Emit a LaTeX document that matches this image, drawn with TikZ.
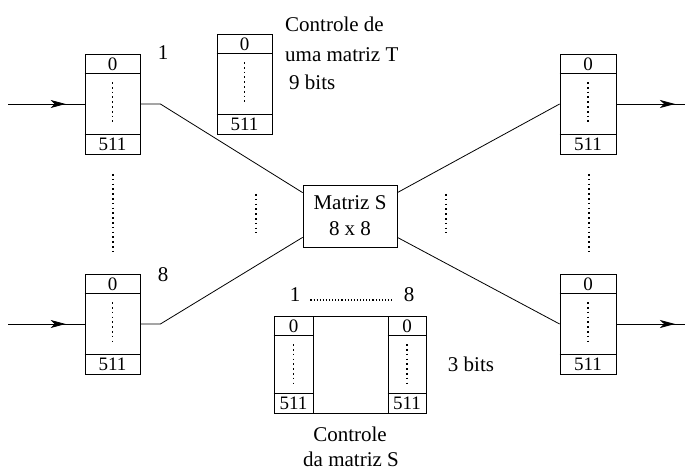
\documentclass[tikz,border=0pt]{standalone}
\usepackage{fontspec}
\setmainfont{Liberation Serif}
\usetikzlibrary{arrows.meta,decorations.markings}
\tikzset{
  ln/.style={line width=0.8pt},
  bufbox/.style={draw,ln,rectangle,inner sep=0pt},
  digit/.style={inner sep=0pt,font=\fontsize{19}{22}\selectfont},
  txt/.style={inner sep=0pt,font=\fontsize{21}{26}\selectfont},
  dotline/.style={line width=1.7pt,dash pattern=on 1.7pt off 3.1pt},
  inarrow/.style={ln,decoration={markings,mark=at position #1 with {\arrow{Stealth[length=15pt,width=8pt,inset=4pt]}}},postaction={decorate}},
}
% name, cx, cy, width, height
\newcommand\mkbuf[5]{%
  \node[bufbox,minimum width=#4pt,minimum height=#5pt] (#1) at (#2,#3) {};
  \draw[ln] ([yshift=-20pt]#1.north west) -- ([yshift=-20pt]#1.north east);
  \draw[ln] ([yshift=20pt]#1.south west) -- ([yshift=20pt]#1.south east);
  \node[digit] (#1-a) at ([yshift=-10.5pt]#1.north) {0};
  \node[digit] (#1-b) at ([yshift=10pt]#1.south) {511};
  \draw[dotline] ([yshift=-28.5pt]#1.north) -- ([yshift=30pt]#1.south);
}
\begin{document}
\begin{tikzpicture}[x=1pt,y=-1pt]
\useasboundingbox (0,0) rectangle (685,470);
% buffers
\mkbuf{bl1}{112.5}{104}{55}{100}
\mkbuf{bl8}{112.5}{324}{55}{100}
\mkbuf{br1}{588}{104}{56}{100}
\mkbuf{br8}{588}{324}{56}{100}
\mkbuf{bt}{244.5}{84}{55}{100}
% switch matrix
\node[bufbox,minimum width=94pt,minimum height=62pt,align=center,
      font=\fontsize{21}{26}\selectfont] (S) at (350,216) {Matriz S\\8 x 8};
% bottom control
\node[bufbox,minimum width=152pt,minimum height=97pt] (ctl) at (350,364.5) {};
\mkbuf{c1}{293.5}{364.5}{39}{97}
\mkbuf{c8}{407}{364.5}{38}{97}
% inputs / outputs
\coordinate (in1) at (8,104);
\coordinate (in8) at (8,324);
\coordinate (out1) at (685,104);
\coordinate (out8) at (685,324);
\draw[inarrow=-19pt] (in1) -- (bl1.west);
\draw[inarrow=-19pt] (in8) -- (bl8.west);
\draw[inarrow=-10pt] (br1.east) -- (out1);
\draw[inarrow=-10pt] (br8.east) -- (out8);
% connections to matrix
\draw[ln] (bl1.east) -- ++(20,0) -- ([yshift=-8pt]S.north west);
\draw[ln] (bl8.east) -- ++(20,0) -- ([yshift=10pt]S.south west);
\draw[ln] ([yshift=-8pt]S.north east) -- (br1.west);
\draw[ln] ([yshift=10pt]S.south east) -- (br8.west);
% dotted separators
\coordinate (dl1) at (113,174);
\coordinate (dl2) at (113,251);
\coordinate (dr1) at (589,174);
\coordinate (dr2) at (589,251);
\coordinate (dm1) at (256,194);
\coordinate (dm2) at (256,233);
\coordinate (dn1) at (446,194);
\coordinate (dn2) at (446,233);
\draw[dotline] (dl1) -- (dl2);
\draw[dotline] (dr1) -- (dr2);
\draw[dotline] (dm1) -- (dm2);
\draw[dotline] (dn1) -- (dn2);
% labels
\node[txt] (l1) at (163,53) {1};
\node[txt] (l8) at (163,275) {8};
\node[txt,anchor=base west] (tT1) at (285,32) {Controle de};
\node[txt,anchor=base west] (tT2) at (285,62) {uma matriz T};
\node[txt,anchor=base west] (tT3) at (289,90) {9 bits};
\node[txt] (c1l) at (295,295) {1};
\node[txt] (c8l) at (409,295) {8};
\draw[line width=1.1pt,dash pattern=on 1.1pt off 2pt] ([xshift=10pt,yshift=-5pt]c1l.east) -- ([xshift=-10pt,yshift=-5pt]c8l.west);
\node[txt] (b3) at (471,364) {3 bits};
\node[txt,anchor=base] (bc1) at (350,441) {Controle};
\node[txt,anchor=base] (bc2) at (351,466) {da matriz S};
\end{tikzpicture}
\end{document}
